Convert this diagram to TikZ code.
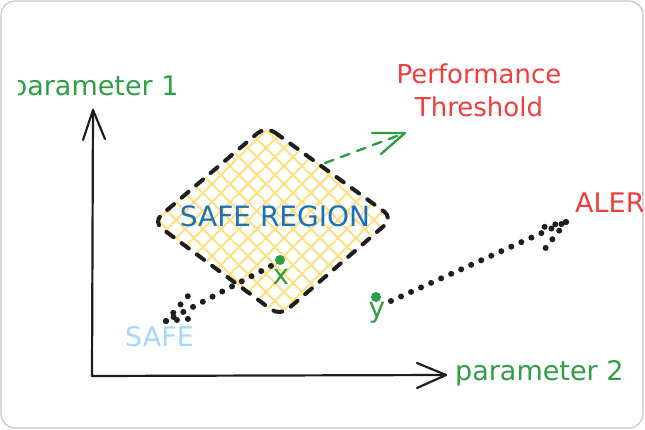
\documentclass[tikz,border=0pt]{standalone}
\usepackage{fontspec}
\setmainfont{DejaVu Sans}
\definecolor{exgreen}{HTML}{2F9E44}
\definecolor{exred}{HTML}{F03E3E}
\definecolor{exblue}{HTML}{1971C2}
\definecolor{exlblue}{HTML}{A5D8FF}
\definecolor{exhatch}{HTML}{FFE083}
\definecolor{exblack}{HTML}{1E1E1E}
\begin{document}
\begin{tikzpicture}[x=1pt,y=-1pt,
  txt/.style={inner sep=0pt, anchor=base west, font=\fontsize{27}{33}\selectfont},
  axisline/.style={exblack, line width=2.2pt, line cap=round, line join=round},
  dotline/.style={exblack, line width=6pt, line cap=round, dash pattern=on 0pt off 11pt},
  greendash/.style={exgreen, line width=2.4pt, line cap=round, dash pattern=on 9pt off 8pt},
  greenline/.style={exgreen, line width=2.4pt, line cap=round, line join=round},
  regionline/.style={exblack, line width=4pt, line cap=round, dash pattern=on 9pt off 10pt, rounded corners=11pt},
  hatchline/.style={exhatch, line width=2pt},
  pointdot/.style={circle, fill=exgreen, minimum size=10pt, inner sep=0pt}]
\useasboundingbox (0,0) rectangle (645,430);
\fill[white] (0,0) rectangle (645,430);
\draw[black!22, line width=1.2pt, rounded corners=14pt] (1,1) rectangle (643,428);

% axes
\coordinate (O) at (92,376);
\coordinate (ytip) at (93,110);
\coordinate (ya1) at (83,140);
\coordinate (ya2) at (105,139);
\coordinate (xtip) at (446,375);
\coordinate (xa1) at (417,363);
\coordinate (xa2) at (417,388);
\draw[axisline] (O) -- (ytip);
\draw[axisline] (ya1) -- (ytip) -- (ya2);
\draw[axisline] (O) -- (xtip);
\draw[axisline] (xa1) -- (xtip) -- (xa2);

% safe region
\coordinate (rt) at (266,126);
\coordinate (rr) at (393,218);
\coordinate (rb) at (280,316);
\coordinate (rl) at (153,222);
\begin{scope}
  \clip[rounded corners=11pt] (rt) -- (rr) -- (rb) -- (rl) -- cycle;
  \foreach \c in {360,378,...,630} \draw[hatchline] (\c-100,100) -- (\c-350,350);
  \foreach \c in {-80,-62,...,200} \draw[hatchline] (\c+100,100) -- (\c+350,350);
\end{scope}
\draw[regionline] (rt) -- (rr) -- (rb) -- (rl) -- cycle;

% threshold arrow
\coordinate (th0) at (325,163);
\coordinate (th1) at (405,133);
\coordinate (tha1) at (372,133);
\coordinate (tha2) at (381,154);
\draw[greendash] (th0) -- (th1);
\draw[greenline] (tha1) -- (th1) -- (tha2);

% points
\node[pointdot] (px) at (280,260) {};
\node[pointdot] (py) at (376,297) {};

% dotted arrow to SAFE
\coordinate (xs) at (271,266);
\coordinate (safetip) at (166,321);
\coordinate (sa1) at (188,296);
\coordinate (sa2) at (198,318);
\draw[dotline] (xs) -- (safetip);
\draw[dotline] (safetip) -- (sa1);
\draw[dotline] (safetip) -- (sa2);

% dotted arrow to ALERT
\coordinate (ys) at (391,301);
\coordinate (alerttip) at (566,222);
\coordinate (aa1) at (535,229);
\coordinate (aa2) at (544,250);
\draw[dotline] (ys) -- (alerttip);
\draw[dotline] (alerttip) -- (aa1);
\draw[dotline] (alerttip) -- (aa2);

% texts
\begin{scope}
  \clip (18,0) rectangle (642,430);
  \node[txt, text=exgreen] (p1) at (10,96) {parameter 1};
  \node[txt, text=exgreen] (p2) at (455,380) {parameter 2};
  \node[txt, text=exred] (alert) at (575,213) {ALERT};
\end{scope}
\node[inner sep=0pt, anchor=base, align=center, text=exred, font=\fontsize{26}{33}\selectfont] (perf) at (479,117) {Performance\\Threshold};
\node[inner sep=0pt, anchor=base, text=exblue, font=\fontsize{28}{33}\selectfont] (region) at (275,227) {SAFE REGION};
\node[txt, text=exlblue] (safe) at (125,346) {SAFE};
\node[inner sep=0pt, anchor=base, text=exgreen, font=\fontsize{28}{33}\selectfont] (lx) at (281,284) {x};
\node[inner sep=0pt, anchor=base, text=exgreen, font=\fontsize{28}{33}\selectfont] (ly) at (377,317) {y};
\end{tikzpicture}
\end{document}
